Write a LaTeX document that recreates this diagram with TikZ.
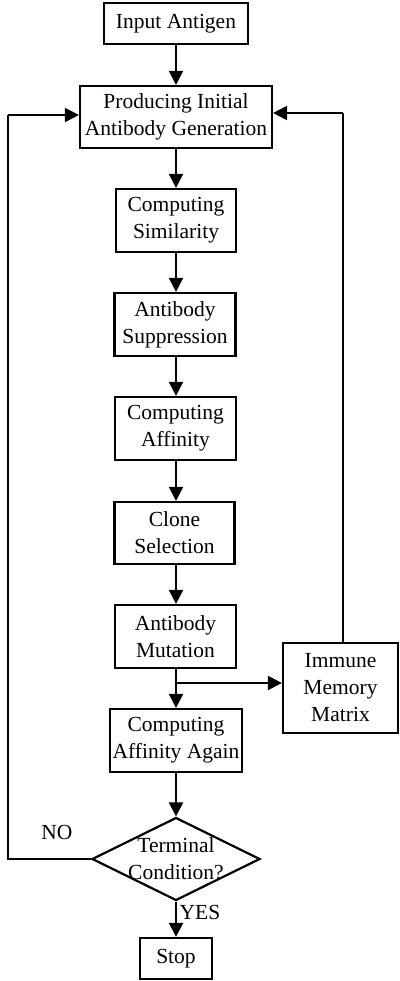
\documentclass[tikz,border=0pt]{standalone}
\usepackage{fontspec}
\setmainfont{Liberation Serif}
\usetikzlibrary{arrows.meta,shapes.geometric}
\begin{document}
\begin{tikzpicture}[x=1pt,y=-1pt,
  every node/.style={font=\fontsize{21.5}{27}\selectfont, align=center, inner sep=0pt},
  box/.style={draw, line width=2.2pt},
  arr/.style={line width=2.2pt, -{Triangle[length=14pt,width=14pt]}},
  ln/.style={line width=2.2pt}]
\useasboundingbox (0,0) rectangle (399,981);
\node[box, minimum width=144pt, minimum height=41pt] (in) at (176,23.5) {Input Antigen};
\node[box, minimum width=192pt, minimum height=62pt] (prod) at (176,117) {Producing Initial\\Antibody Generation};
\node[box, minimum width=120pt, minimum height=63pt] (sim) at (176,220.5) {Computing\\Similarity};
\node[box, minimum width=121pt, minimum height=63pt] (sup) at (175,324.5) {Antibody\\Suppression};
\node[box, minimum width=121pt, minimum height=63pt] (aff) at (175.5,428.5) {Computing\\Affinity};
\node[box, minimum width=120pt, minimum height=62pt] (clo) at (174.5,533) {Clone\\Selection};
\node[box, minimum width=121pt, minimum height=63pt] (mut) at (175.5,636.5) {Antibody\\Mutation};
\node[box, minimum width=115pt, minimum height=90pt] (imm) at (340.5,688) {Immune\\Memory\\Matrix};
\node[box, minimum width=132pt, minimum height=63pt] (again) at (176,740.5) {Computing\\Affinity Again};
\node[draw, line width=2.2pt, diamond, aspect=2.02, minimum width=168pt, minimum height=83pt] (dec) at (176,859) {};
\node at (176,859) {Terminal\\Condition?};
\node[box, minimum width=72pt, minimum height=41pt] (stop) at (176,958.5) {Stop};
\node (no) at (57,832) {NO};
\node (yes) at (200,912) {YES};
\coordinate (br) at (176,683);
\coordinate (l1) at (8,859);
\coordinate (l2) at (8,115);
\coordinate (r1) at (343,113);
\draw[arr] (in) -- (prod);
\draw[arr] (prod) -- (sim);
\draw[arr] (sim.south) -- (sup.north -| sim.south);
\draw[arr] (sup.south -| sim.south) -- (aff.north -| sim.south);
\draw[arr] (aff.south -| sim.south) -- (clo.north -| sim.south);
\draw[arr] (clo.south -| sim.south) -- (mut.north -| sim.south);
\draw[arr] (mut.south -| sim.south) -- (again.north);
\draw[arr] (br) -- (imm.west |- br);
\draw[arr] (again) -- (dec.north);
\draw[arr] (dec.south) -- (stop.north);
\draw[ln] (dec.west) -- (l1) -- (l2);
\draw[arr] (l2) -- (prod.west |- l2);
\draw[ln] (imm.north -| r1) -- (r1);
\draw[arr] (r1) -- (prod.east |- r1);
\end{tikzpicture}
\end{document}
